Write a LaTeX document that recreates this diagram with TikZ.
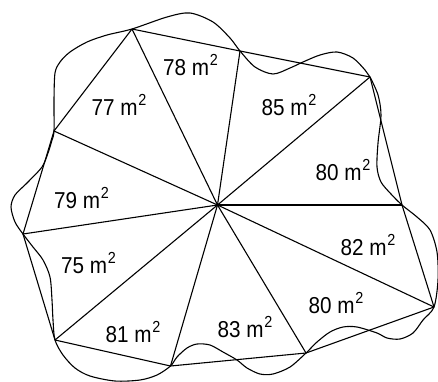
\documentclass[tikz,border=0pt]{standalone}
\usepackage{fontspec}
\setmainfont{Liberation Sans}[FakeStretch=0.9]
\newcommand{\sqmeter}{ m\kern0.8pt\raisebox{0.42em}{\fontsize{16}{16}\selectfont 2}}
\begin{document}
\begin{tikzpicture}[x=1pt,y=-1pt,
  edge/.style={line width=1.1pt, line join=round},
  lab/.style={font=\fontsize{23}{23}\selectfont, inner sep=0pt, anchor=base}]
\useasboundingbox (0,0) rectangle (438,381);
\coordinate (C) at (217.5,205);
\coordinate (V1) at (132,29);
\coordinate (V2) at (240,51);
\coordinate (V3) at (370,77);
\coordinate (V4) at (402,205);
\coordinate (V5) at (434,307);
\coordinate (V6) at (306,353);
\coordinate (V7) at (170.5,366);
\coordinate (V8) at (55,340);
\coordinate (V9) at (23,234);
\coordinate (V10) at (54,131);
\draw[edge] (V1)--(V2)--(V3)--(V4)--(V5)--(V6)--(V7)--(V8)--(V9)--(V10)--cycle;
\foreach \i in {1,...,10} \draw[edge] (C)--(V\i);
\draw[edge] plot[smooth cycle, tension=0.5] coordinates {
 (132,29) (167,17) (190,13) (213,22) (230,38) (240,51)
 (255,67) (273,74) (290,68) (303,62) (320,55) (337,52) (353,58) (365,70) (370,77)
 (378,95) (381,115) (378,143) (377,167) (381,182) (391,194) (402,205)
 (417,217) (430,230) (437,252) (438,280) (434,307)
 (423,320) (413,333) (400,339) (387,338) (377,333) (357,327) (343,327) (330,332) (317,342) (306,353)
 (290,367) (273,374) (260,374) (247,368) (237,360) (223,352) (210,345) (197,344) (187,348) (177,357) (170.5,366)
 (157,375) (140,380) (115,381) (90,376) (75,368) (63,355) (55,340)
 (53,320) (52,300) (50,277) (43,260) (33,247) (23,234)
 (15,222) (11,207) (15,195) (27,183) (42,167) (48,153) (52,140) (54,131)
 (54,100) (55,73) (60,62) (70,52) (87,42) (107,35)};
\node[lab] (l77) at (119,115) {77\sqmeter};
\node[lab] (l78) at (190.5,75) {78\sqmeter};
\node[lab] (l85) at (289,115) {85\sqmeter};
\node[lab] (l80a) at (343,180) {80\sqmeter};
\node[lab] (l79) at (81.5,208) {79\sqmeter};
\node[lab] (l75) at (88.5,273) {75\sqmeter};
\node[lab] (l82) at (368,255) {82\sqmeter};
\node[lab] (l81) at (133,342) {81\sqmeter};
\node[lab] (l83) at (245,337) {83\sqmeter};
\node[lab] (l80b) at (336,313) {80\sqmeter};
\end{tikzpicture}
\end{document}
